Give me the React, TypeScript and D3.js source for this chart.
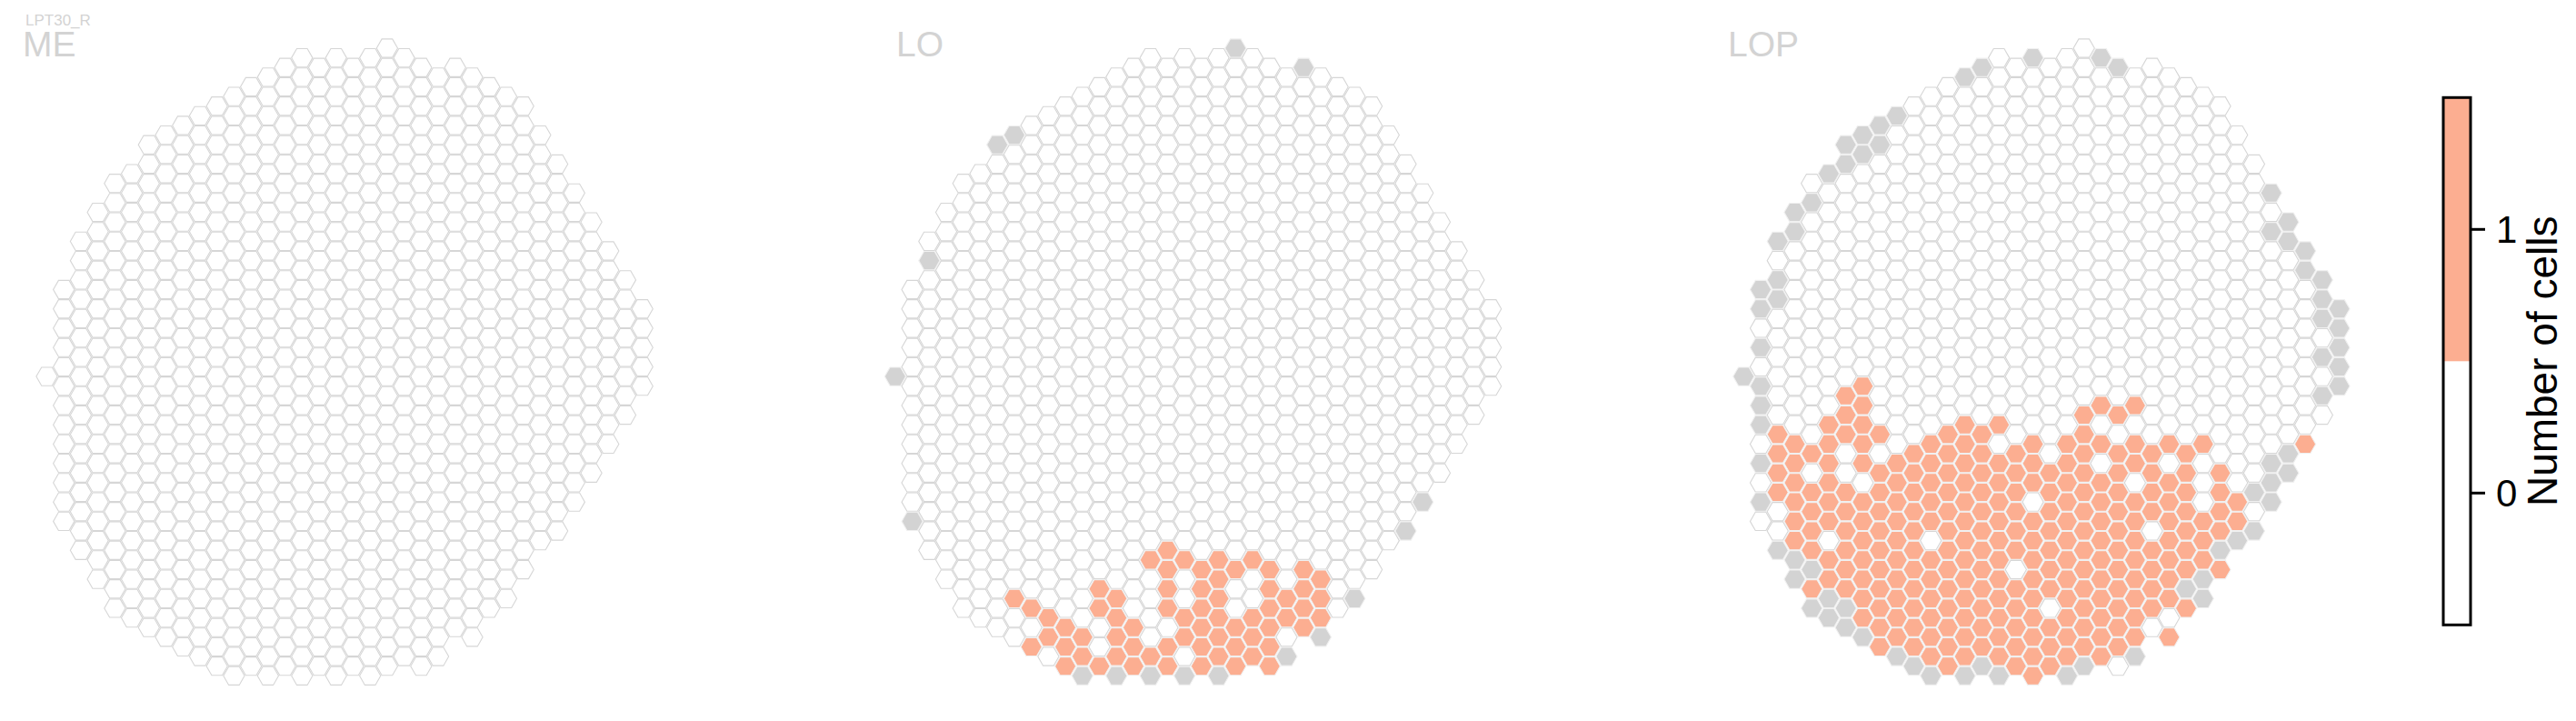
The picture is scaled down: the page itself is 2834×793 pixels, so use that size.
import React from 'react';
import * as d3 from 'd3';

const width = 2834;
const height = 793;

const cellType = 'LPT30_R';
const panelNames = ['ME', 'LO', 'LOP'];

// half-row index of the first and last hexagon in each of the 36 columns
const columnTop = [34, 25, 20, 17, 14, 13, 10, 9, 8, 7, 6, 5, 4, 3, 2, 1, 2, 1, 2, 1, 0, 1, 2, 3, 2, 3, 4, 5, 6, 9, 12, 15, 18, 21, 24, 27];
const columnBottom = [34, 49, 52, 55, 58, 59, 60, 61, 62, 63, 64, 65, 64, 65, 64, 65, 64, 65, 64, 65, 64, 63, 64, 63, 60, 61, 58, 57, 54, 51, 50, 47, 44, 41, 38, 35];

// LO: columns without data, and columns with one cell  [column, halfRow]
const loMissing = [
  [20, 0], [24, 2], [7, 9], [6, 10], [2, 22], [0, 34], [1, 49], [31, 47], [30, 50],
  [27, 57], [25, 61], [23, 63], [11, 65], [13, 65], [15, 65], [17, 65], [19, 65],
];
const loOne = [
  [16, 52], [15, 53], [17, 53], [19, 53], [21, 53],
  [16, 54], [18, 54], [20, 54], [22, 54], [24, 54],
  [19, 55], [25, 55],
  [12, 56], [16, 56], [18, 56], [22, 56], [24, 56],
  [7, 57], [13, 57], [19, 57], [23, 57], [25, 57],
  [8, 58], [12, 58], [16, 58], [18, 58], [22, 58], [24, 58],
  [9, 59], [13, 59], [17, 59], [19, 59], [21, 59], [23, 59], [25, 59],
  [10, 60], [14, 60], [18, 60], [20, 60], [22, 60], [24, 60],
  [9, 61], [11, 61], [13, 61], [17, 61], [19, 61], [21, 61],
  [8, 62], [10, 62], [14, 62], [16, 62], [18, 62], [20, 62], [22, 62],
  [11, 63], [13, 63], [15, 63], [19, 63], [21, 63],
  [10, 64], [12, 64], [14, 64], [16, 64], [18, 64], [20, 64], [22, 64],
];

// LOP
const lopMissing = [
  [0, 34],
  [1, 25], [1, 27], [1, 31], [1, 35], [1, 37], [1, 39], [1, 43], [1, 47],
  [2, 20], [2, 24], [2, 26], [2, 52],
  [3, 17], [3, 19], [3, 53], [3, 55],
  [4, 16], [4, 54], [4, 58],
  [5, 13], [5, 57], [5, 59],
  [6, 10], [6, 12], [6, 58], [6, 60],
  [7, 9], [7, 11], [7, 61],
  [8, 8], [8, 10],
  [9, 7], [9, 63], [10, 64], [11, 65], [13, 3], [13, 65], [14, 2], [14, 64], [15, 65],
  [17, 1], [19, 65], [20, 64], [21, 1], [22, 2], [23, 63],
  [26, 56], [27, 55], [27, 57], [28, 52], [29, 51], [30, 46], [30, 50],
  [31, 15], [31, 19], [31, 43], [31, 45], [31, 47],
  [32, 18], [32, 20], [32, 42], [32, 44],
  [33, 21], [33, 23],
  [34, 24], [34, 26], [34, 28], [34, 32], [34, 36],
  [35, 27], [35, 29], [35, 31], [35, 33], [35, 35],
];
// runs of one-cell columns: [column, first halfRow, last halfRow]
const lopOneRuns = [
  [2, 40, 46], [3, 41, 51], [4, 42, 52], [4, 56, 56], [5, 39, 55], [6, 36, 56], [7, 35, 59],
  [8, 40, 62], [9, 43, 61], [10, 42, 62], [11, 41, 63], [12, 40, 64], [13, 39, 63],
  [14, 40, 62], [15, 39, 63], [16, 42, 64], [17, 41, 65], [18, 44, 64], [19, 41, 63],
  [20, 38, 62], [21, 37, 63], [22, 38, 62], [23, 37, 61], [24, 42, 58], [25, 41, 61],
  [26, 42, 54], [26, 58, 58], [27, 41, 41], [27, 49, 53], [28, 44, 50], [28, 54, 54],
  [29, 47, 49], [33, 41, 41],
];
// empty columns inside those runs
const lopZero = [
  [4, 44], [5, 51], [6, 42], [6, 44], [7, 45], [8, 42], [11, 51], [15, 41], [16, 54],
  [17, 47], [18, 58], [21, 39], [21, 43], [22, 40], [23, 39], [23, 45], [24, 50], [25, 43], [25, 59],
];

const colLeft = [51.5, 984.9, 1918.3];
const titleX = [25, 986, 1901];
const colStep = 18.72;
const rowStep = 10.62;
const hexR = 11.6;
const hexH = 20.2;

const key = (c: number, h: number) => c + ':' + h;

function panelValues(name: string) {
  const vals = new Map<string, number>();
  if (name === 'LO') {
    loOne.forEach(([c, h]) => vals.set(key(c, h), 1));
    loMissing.forEach(([c, h]) => vals.set(key(c, h), NaN));
  }
  if (name === 'LOP') {
    lopOneRuns.forEach(([c, a, b]) => {
      for (let h = a; h <= b; h += 2) vals.set(key(c, h), 1);
    });
    lopZero.forEach(([c, h]) => vals.set(key(c, h), 0));
    lopMissing.forEach(([c, h]) => vals.set(key(c, h), NaN));
  }
  const cells: { c: number; h: number; v: number }[] = [];
  columnTop.forEach((top, c) => {
    for (let h = top; h <= columnBottom[c]; h += 2) {
      const v = vals.has(key(c, h)) ? (vals.get(key(c, h)) as number) : 0;
      cells.push({ c, h, v });
    }
  });
  return cells;
}

const hexPath = d3.line()([
  [hexR, 0], [hexR / 2, hexH / 2], [-hexR / 2, hexH / 2],
  [-hexR, 0], [-hexR / 2, -hexH / 2], [hexR / 2, -hexH / 2],
]) + 'Z';

const fillFor = (v: number) => (Number.isNaN(v) ? '#d3d3d3' : v >= 1 ? '#fcae91' : '#ffffff');

const yScale = d3.scaleLinear().domain([0, 65]).range([53, 53 + 65 * rowStep]);

// colorbar
const cbTicks = [0, 1];
const cbScale = d3.scaleLinear().domain([-0.5, 1.5]).range([687.3, 107.3]);
const cbX = 2688;
const cbW = 30;

function Panel({ name, idx }: { name: string; idx: number }) {
  const xScale = d3.scaleLinear().domain([0, 35]).range([colLeft[idx], colLeft[idx] + 35 * colStep]);
  const cells = panelValues(name);
  return (
    <g>
      {cells.map((d, i) => (
        <path
          key={i}
          d={hexPath}
          transform={`translate(${xScale(d.c)},${yScale(d.h)})`}
          fill={fillFor(d.v)}
          stroke={d.v === 0 ? '#d6d6d6' : '#f0f0f0'}
          strokeWidth={1.1}
        />
      ))}
      <text x={titleX[idx]} y={61.5} fontSize={39} fill="#d3d3d3" fontFamily="Liberation Sans, Arial, sans-serif">
        {name}
      </text>
    </g>
  );
}

export default function App() {
  return (
    <svg width={width} height={height} style={{ position: 'absolute', left: 0, top: 0, background: '#fff' }}>
      <text x={28} y={28} fontSize={17} fill="#d3d3d3" fontFamily="Liberation Sans, Arial, sans-serif">
        {cellType}
      </text>
      {panelNames.map((n, i) => (
        <Panel key={n} name={n} idx={i} />
      ))}
      <g>
        <rect x={cbX} y={cbScale(0.5)} width={cbW} height={cbScale(-0.5) - cbScale(0.5)} fill="#ffffff" />
        <rect x={cbX} y={cbScale(1.5)} width={cbW} height={cbScale(0.5) - cbScale(1.5)} fill="#fcae91" />
        <rect x={cbX} y={cbScale(1.5)} width={cbW} height={cbScale(-0.5) - cbScale(1.5)} fill="none" stroke="#000" strokeWidth={3} />
        {cbTicks.map((t) => (
          <g key={t} transform={`translate(${cbX + cbW},${cbScale(t)})`}>
            <line x1={0} x2={16} stroke="#000" strokeWidth={3} />
            <text x={28} dy="0.36em" fontSize={42} fontFamily="Liberation Sans, Arial, sans-serif">
              {t}
            </text>
          </g>
        ))}
        <text
          transform={`translate(2813,${cbScale(0.5)}) rotate(-90)`}
          textAnchor="middle"
          fontSize={46}
          fontFamily="Liberation Sans, Arial, sans-serif"
        >
          Number of cells
        </text>
      </g>
    </svg>
  );
}
